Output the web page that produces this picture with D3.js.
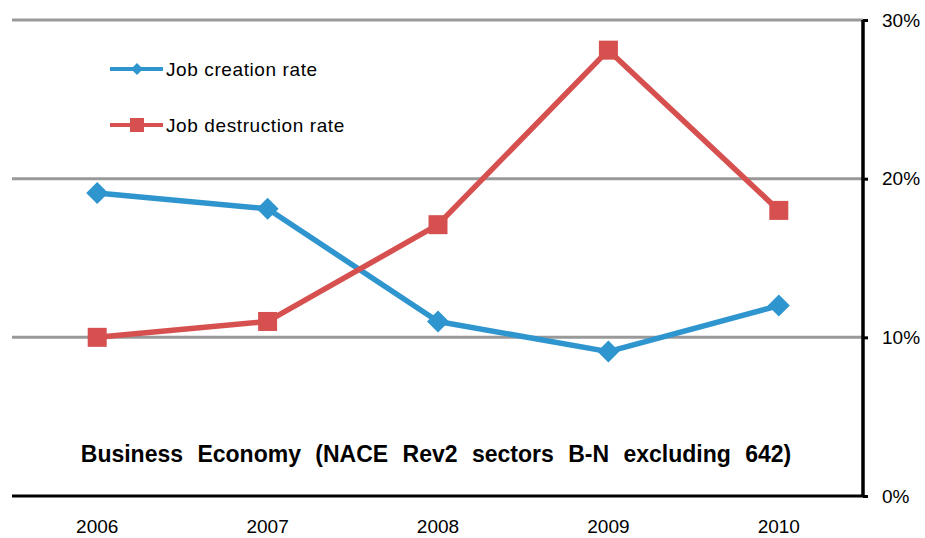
<!DOCTYPE html>
<html lang="en">
<head>
<meta charset="utf-8">
<title>Job creation and destruction rates</title>
<script src="https://cdn.jsdelivr.net/npm/d3@7"></script>
<style>
    body { margin: 0; background: #fff; overflow: hidden; }
    svg { display: block; }
    text { font-family: "Liberation Sans", Arial, sans-serif; fill: #000; }
</style>
</head>
<body>
<div id="chart"></div>
<script>
const years = ["2006", "2007", "2008", "2009", "2010"];
const creation = [19.1, 18.1, 11.0, 9.1, 12.0];
const destruction = [10.0, 11.0, 17.1, 28.1, 18.0];
const yTicks = [0, 10, 20, 30];
const title = "Business Economy (NACE Rev2 sectors B-N excluding 642)";

const W = 925, H = 538;
const plotLeft = 12, plotRight = 863, plotTop = 20, plotBottom = 496;

const svg = d3.select("#chart").append("svg")
    .attr("width", W)
    .attr("height", H);

const x = d3.scaleBand()
    .domain(years)
    .range([plotLeft, plotRight + 1]);
const y = d3.scaleLinear()
    .domain([0, 30])
    .range([plotBottom, plotTop]);

// gridlines
svg.append("g").selectAll("line")
    .data(yTicks.filter(d => d > 0))
    .enter().append("line")
    .attr("x1", plotLeft).attr("x2", plotRight)
    .attr("y1", d => y(d)).attr("y2", d => y(d))
    .attr("stroke", "#999").attr("stroke-width", 3);

// bottom axis
const xAxis = svg.append("g")
    .attr("transform", "translate(0," + plotBottom + ")")
    .call(d3.axisBottom(x).tickSize(0).tickPadding(24));
xAxis.select(".domain").attr("d", `M${plotLeft},0H${plotRight}`)
    .attr("stroke", "#000").attr("stroke-width", 3);
xAxis.selectAll("text").style("font-size", "19px")
    .style("font-family", "Liberation Sans, Arial, sans-serif");

// right axis
const yAxis = svg.append("g")
    .attr("transform", "translate(" + plotRight + ",0)")
    .call(d3.axisRight(y).tickValues(yTicks).tickSize(5).tickPadding(14)
        .tickFormat(d => d + "%"));
yAxis.select(".domain").attr("d", `M0,${plotTop}V${plotBottom}`)
    .attr("stroke", "#000").attr("stroke-width", 3.5);
yAxis.selectAll(".tick line").attr("stroke", "#000").attr("stroke-width", 3);
yAxis.selectAll("text").style("font-size", "19px")
    .style("font-family", "Liberation Sans, Arial, sans-serif");

const cx = d => x(d) + x.bandwidth() / 2;

const series = [
    {name: "Job creation rate", values: creation, color: "#2f95cf", shape: "diamond"},
    {name: "Job destruction rate", values: destruction, color: "#d65050", shape: "square"}
];

const line = d3.line()
    .x(d => cx(d.year))
    .y(d => y(d.v));

function marker(g, shape, color, r) {
    if (shape === "diamond") {
        g.append("path").attr("d", `M0,${-r}L${r},0L0,${r}L${-r},0Z`).attr("fill", color);
    } else {
        g.append("rect").attr("x", -r).attr("y", -r).attr("width", 2 * r).attr("height", 2 * r)
            .attr("fill", color);
    }
}

series.forEach(s => {
    const pts = years.map((yr, i) => ({year: yr, v: s.values[i]}));
    svg.append("path")
        .datum(pts)
        .attr("fill", "none")
        .attr("stroke", s.color)
        .attr("stroke-width", 5.5)
        .attr("stroke-linejoin", "round")
        .attr("d", line);
    svg.append("g").selectAll("g")
        .data(pts)
        .enter().append("g")
        .attr("transform", d => `translate(${cx(d.year)},${y(d.v)})`)
        .each(function() { marker(d3.select(this), s.shape, s.color, s.shape === "diamond" ? 11 : 9.5); });
});

// legend
const legend = svg.append("g");
series.forEach((s, i) => {
    const ly = 69 + i * 56;
    const g = legend.append("g");
    g.append("line")
        .attr("x1", 110).attr("x2", 163).attr("y1", ly).attr("y2", ly)
        .attr("stroke", s.color).attr("stroke-width", 4);
    const m = g.append("g").attr("transform", `translate(137,${ly})`);
    marker(m, s.shape, s.color, s.shape === "diamond" ? 6 : 7);
    g.append("text")
        .attr("x", 166).attr("y", ly + 7)
        .style("font-size", "19px")
        .style("letter-spacing", "0.6px")
        .text(s.name);
});

// title inside plot
svg.append("text")
    .attr("x", 436).attr("y", 462)
    .attr("text-anchor", "middle")
    .style("font-size", "23px")
    .style("font-weight", "bold")
    .style("word-spacing", "8px")
    .text(title);
</script>
</body>
</html>
